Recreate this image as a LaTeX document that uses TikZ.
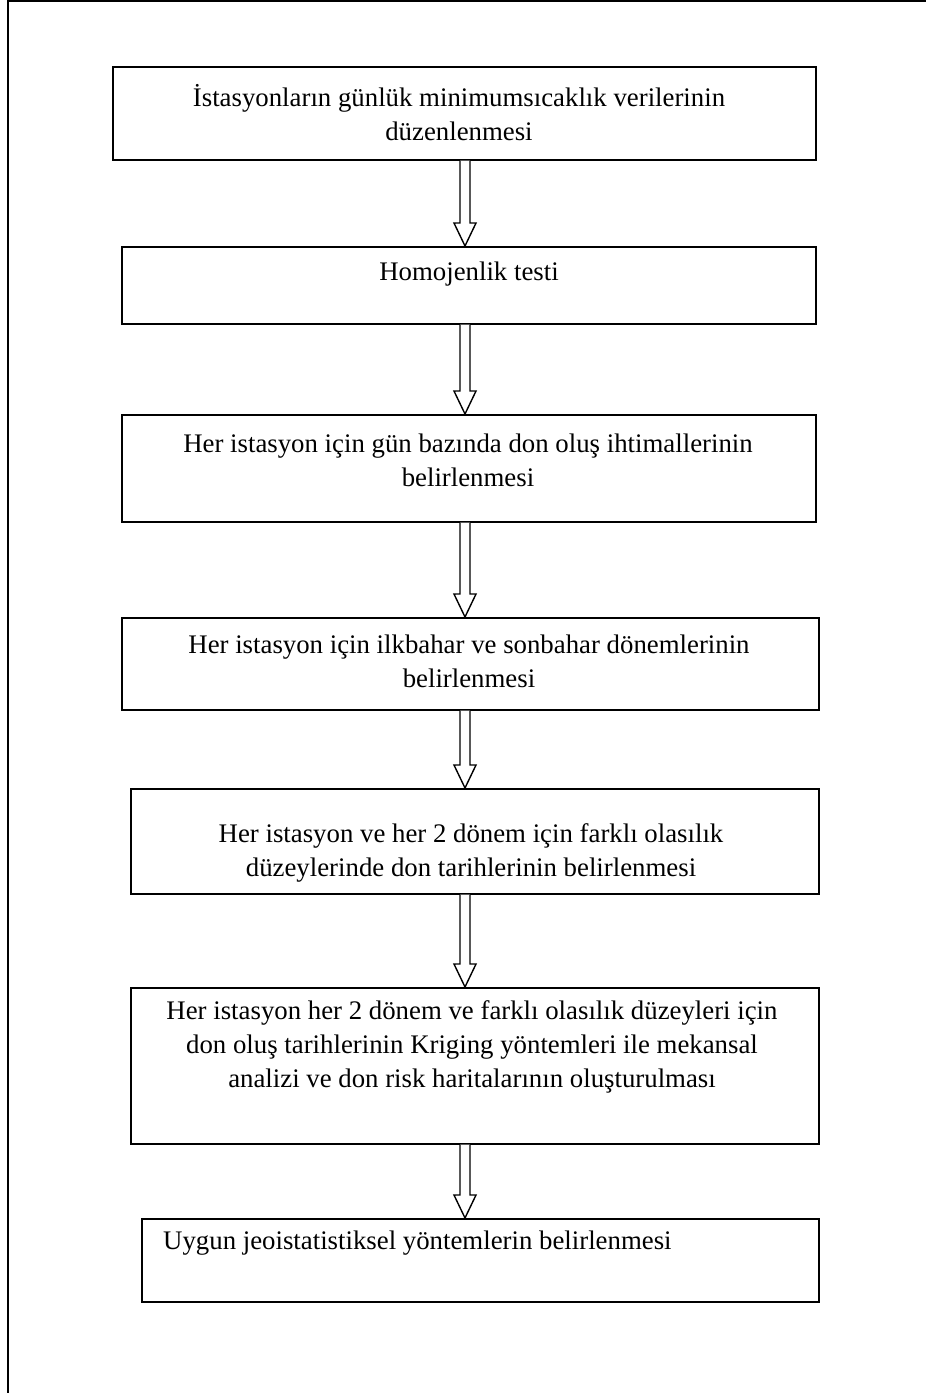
\documentclass[tikz,border=0pt]{standalone}
\usepackage{fontspec}
\setmainfont{Liberation Serif}
\usetikzlibrary{calc}
\tikzset{
  frameline/.style={line width=1.6pt, black},
  stepbox/.style={draw, line width=1.6pt, rectangle, inner sep=0pt, anchor=north west},
  steptext/.style={align=center, inner sep=0pt, font=\fontsize{26.8}{34}\selectfont},
  blockarrow/.style={draw, line width=1.4pt, fill=white, line join=miter},
}
\newcommand{\boxat}[5]{% name, x1, y1, x2, y2
  \node[stepbox, minimum width={(#4-#2)*1pt}, minimum height={(#5-#3)*1pt}] (#1) at (#2,#3) {};}
\newcommand{\blockarr}[2]{%
  \draw[blockarrow] let \p1=(#1.south -| ax), \p2=(#2.north -| ax) in
    (\x1-5pt,\y1) -- (\x1-5pt,\y2+23pt) -- (\x1-11pt,\y2+23pt) -- (\x1,\y2)
    -- (\x1+11pt,\y2+23pt) -- (\x1+5pt,\y2+23pt) -- (\x1+5pt,\y1);}
\begin{document}
\begin{tikzpicture}[x=1pt,y=-1pt]
\useasboundingbox (0,0) rectangle (926,1393);
\coordinate (ax) at (465,0);
\coordinate (fa) at (8,1393);
\coordinate (fb) at (8,1);
\coordinate (fc) at (926,1);
\draw[frameline] (fa) -- (fb) -- (fc);

\boxat{b1}{112}{66}{815}{159}
\boxat{b2}{121}{246}{815}{323}
\boxat{b3}{121}{414}{815}{521}
\boxat{b4}{121}{617}{818}{709}
\boxat{b5}{130}{788}{818}{893}
\boxat{b6}{130}{987}{818}{1143}
\boxat{b7}{141}{1218}{818}{1301}

\node[steptext] (t1) at (459,113) {İstasyonların günlük minimumsıcaklık verilerinin\\düzenlenmesi};
\node[steptext] (t2) at (469,274) {Homojenlik testi};
\node[steptext] (t3) at (468,460) {Her istasyon için gün bazında don oluş ihtimallerinin\\belirlenmesi};
\node[steptext] (t4) at (469,661) {Her istasyon için ilkbahar ve sonbahar dönemlerinin\\belirlenmesi};
\node[steptext] (t5) at (471,853) {Her istasyon ve her 2 dönem için farklı olasılık\\düzeylerinde don tarihlerinin belirlenmesi};
\node[steptext] (t6) at (472,1047) {Her istasyon her 2 dönem ve farklı olasılık düzeyleri için\\don oluş tarihlerinin Kriging yöntemleri ile mekansal\\analizi ve don risk haritalarının oluşturulması};
\node[steptext, anchor=west] (t7) at (163,1243) {Uygun jeoistatistiksel yöntemlerin belirlenmesi};

\blockarr{b1}{b2}
\blockarr{b2}{b3}
\blockarr{b3}{b4}
\blockarr{b4}{b5}
\blockarr{b5}{b6}
\blockarr{b6}{b7}
\end{tikzpicture}
\end{document}
